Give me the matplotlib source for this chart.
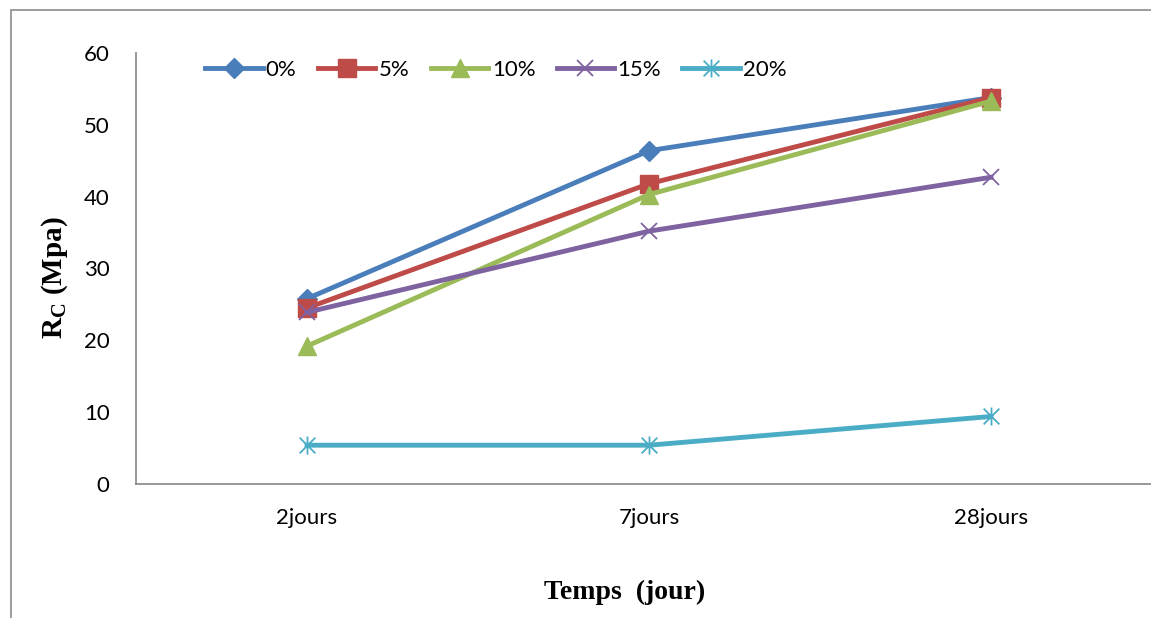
import matplotlib.pyplot as plt
from matplotlib.path import Path
from matplotlib.patches import Rectangle

plt.rcParams['mathtext.fontset'] = 'custom'
plt.rcParams['mathtext.bf'] = 'Liberation Serif:bold'
plt.rcParams['mathtext.rm'] = 'Liberation Serif:bold'

jours = ['2jours', '7jours', '28jours']
taux = ['0%', '5%', '10%', '15%', '20%']

rc_0 = [25.8, 46.4, 53.8]
rc_5 = [24.5, 41.8, 53.8]
rc_10 = [19.2, 40.3, 53.3]
rc_15 = [23.9, 35.2, 42.7]
rc_20 = [5.4, 5.4, 9.4]

couleurs = ['#4A7EBB', '#BE4B48', '#9BBB59', '#7F63A1', '#4BACC6']

# etoile facon Excel : une croix + un trait vertical
etoile = Path([(-1, -1), (1, 1), (-1, 1), (1, -1), (0, -1.15), (0, 1.15)],
              [Path.MOVETO, Path.LINETO, Path.MOVETO, Path.LINETO, Path.MOVETO, Path.LINETO])

styles = [
    dict(marker='D', ms=10, mfc=couleurs[0], mec=couleurs[0]),
    dict(marker='s', ms=12.5, mfc=couleurs[1], mec=couleurs[1]),
    dict(marker='^', ms=13, mfc=couleurs[2], mec=couleurs[2]),
    dict(marker='x', ms=12, mec=couleurs[3], mew=1.3),
    dict(marker=etoile, ms=13, mfc='none', mec=couleurs[4], mew=1.3),
]

fig = plt.figure(figsize=(11.51, 6.18), dpi=100)
fig.patches.append(Rectangle((11 / 1151, -0.1), 1.2, (608 / 618) + 0.1,
                             transform=fig.transFigure, fill=False,
                             edgecolor='#8c8c8c', lw=1.2))

ax = fig.add_axes([136 / 1151, 134 / 618, 1026 / 1151, 431 / 618])

x = range(len(jours))
for i, rc in enumerate([rc_0, rc_5, rc_10, rc_15, rc_20]):
    ax.plot(x, rc, color=couleurs[i], lw=3.5, label=taux[i], zorder=3 + i, **styles[i])

ax.set_xlim(-0.5, 2.5)
ax.set_ylim(0, 60)
ax.set_yticks(range(0, 61, 10))
ax.set_xticks(list(x))
ax.set_xticklabels(jours)
for s in ['top', 'right']:
    ax.spines[s].set_visible(False)
for s in ['left', 'bottom']:
    ax.spines[s].set_color('#868686')
    ax.spines[s].set_linewidth(1.2)
ax.tick_params(axis='y', length=0, pad=19, labelsize=16)
ax.tick_params(axis='x', length=0, pad=17, labelsize=16)
for t in ax.get_xticklabels() + ax.get_yticklabels():
    t.set_family('Lato')

leg = ax.legend(loc='upper left', bbox_to_anchor=(0.054, 1.015), ncol=5, frameon=False,
                prop={'family': 'Lato', 'size': 16}, handlelength=2.6,
                handletextpad=0.15, columnspacing=0.95, borderaxespad=0.2)

fig.text(55 / 1151, 1 - 278 / 618, r'R$_\mathbf{C}$ (Mpa)', rotation=90,
         ha='center', va='center', family='Liberation Serif', weight='bold', fontsize=21)
fig.text(625 / 1151, 1 - 592 / 618, 'Temps  (jour)', ha='center', va='center',
         family='Liberation Serif', weight='bold', fontsize=20)

fig.savefig('out.png', dpi=100)
